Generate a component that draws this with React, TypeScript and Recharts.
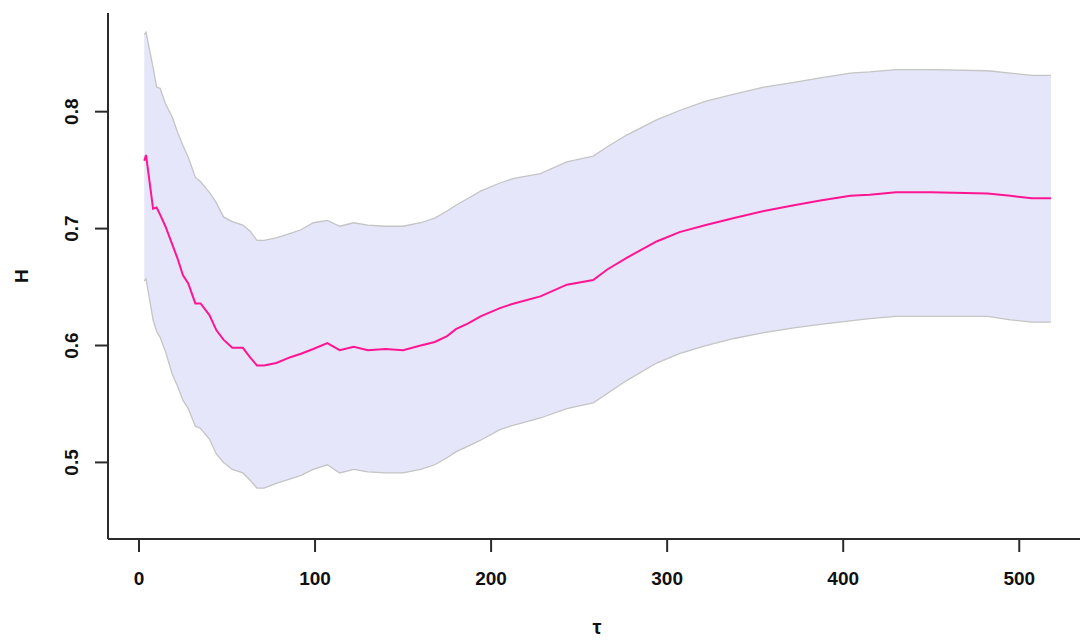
import React from "react";
import { Area, ComposedChart, Label, Line, XAxis, YAxis } from "recharts";

// tau values (x axis)
const tau = [
  3, 4, 8, 10, 12, 15, 19, 22, 25, 28, 32, 35, 40, 44, 48, 53, 59, 63, 67, 71, 78, 86, 92, 99, 107, 114,
  122, 130, 140, 150, 160, 168, 175, 180, 187, 194, 205, 213, 228, 243, 258, 266, 277, 294, 307, 322,
  338, 355, 372, 387, 404, 415, 430, 450, 482, 495, 507, 518,
];

// estimated H
const hMean = [
  0.758, 0.763, 0.717, 0.718, 0.712, 0.702, 0.686, 0.674, 0.66, 0.653, 0.636, 0.636, 0.626, 0.613, 0.605,
  0.598, 0.598, 0.59, 0.583, 0.583, 0.585, 0.59, 0.593, 0.597, 0.602, 0.596, 0.599, 0.596, 0.597, 0.596,
  0.6, 0.603, 0.608, 0.614, 0.619, 0.625, 0.632, 0.636, 0.642, 0.652, 0.656, 0.665, 0.675, 0.689, 0.697,
  0.703, 0.709, 0.715, 0.72, 0.724, 0.728, 0.729, 0.731, 0.731, 0.73, 0.728, 0.726, 0.726,
];

// upper confidence bound
const hHigh = [
  0.866, 0.868, 0.838, 0.821, 0.82, 0.807, 0.795, 0.782, 0.771, 0.761, 0.744, 0.74, 0.731, 0.722, 0.71,
  0.706, 0.703, 0.698, 0.69, 0.69, 0.692, 0.696, 0.699, 0.705, 0.707, 0.702, 0.705, 0.703, 0.702, 0.702,
  0.705, 0.709, 0.715, 0.72, 0.726, 0.732, 0.739, 0.743, 0.747, 0.757, 0.762, 0.77, 0.78, 0.793, 0.801,
  0.809, 0.815, 0.821, 0.825, 0.829, 0.833, 0.834, 0.836, 0.836, 0.835, 0.833, 0.831, 0.831,
];

// lower confidence bound
const hLow = [
  0.655, 0.657, 0.622, 0.612, 0.607, 0.595, 0.575, 0.565, 0.553, 0.546, 0.531, 0.529, 0.52, 0.507, 0.5,
  0.494, 0.491, 0.485, 0.478, 0.478, 0.482, 0.486, 0.489, 0.494, 0.498, 0.491, 0.494, 0.492, 0.491, 0.491,
  0.494, 0.498, 0.504, 0.509, 0.514, 0.519, 0.528, 0.532, 0.538, 0.546, 0.551, 0.559, 0.57, 0.585, 0.593,
  0.6, 0.606, 0.611, 0.615, 0.618, 0.621, 0.623, 0.625, 0.625, 0.625, 0.622, 0.62, 0.62,
];

const xTicks = [0, 100, 200, 300, 400, 500];
const yTicks = [0.5, 0.6, 0.7, 0.8];

const data = tau.map((t, i) => ({
  tau: t,
  mean: hMean[i],
  low: hLow[i],
  high: hHigh[i],
  band: [hLow[i], hHigh[i]],
}));

const font = "'Liberation Sans', Arial, sans-serif";
const axisColor = "#2b2b2b";

const YTick = (props: any) => {
  const { x, y, payload } = props;
  const cx = x - 17;
  return (
    <text
      x={cx}
      y={y}
      transform={`rotate(-90 ${cx} ${y})`}
      textAnchor="middle"
      fontFamily={font}
      fontSize={19}
      fontWeight="bold"
      fill="#111"
    >
      {payload.value.toFixed(1)}
    </text>
  );
};

const yTitle = (props: any) => {
  const { x, y, height } = props.viewBox;
  const cx = x + 28;
  const cy = y + height / 2;
  return (
    <text
      x={cx}
      y={cy}
      transform={`rotate(-90 ${cx} ${cy})`}
      textAnchor="middle"
      fontFamily={font}
      fontSize={19}
      fontWeight="bold"
      fill="#111"
    >
      H
    </text>
  );
};

const xTitle = (props: any) => {
  const { x, y, width, height } = props.viewBox;
  return (
    <text
      x={x + width / 2 + 3}
      y={y + height - 7}
      textAnchor="middle"
      fontFamily={font}
      fontSize={20}
      fontWeight="bold"
      fill="#111"
    >
      τ
    </text>
  );
};

export default function App() {
  return (
    <div style={{ position: "absolute", left: 0, top: 0, background: "#fff" }}>
      <ComposedChart width={1082} height={641} data={data} margin={{ top: 13, right: 2, bottom: 0, left: 0 }}>
        <XAxis
          type="number"
          dataKey="tau"
          domain={[-17.6, 534.5]}
          ticks={xTicks}
          allowDataOverflow
          height={102}
          tickSize={13}
          tickMargin={20}
          axisLine={{ stroke: axisColor, strokeWidth: 2 }}
          tickLine={{ stroke: axisColor, strokeWidth: 2 }}
          tick={{ fontFamily: font, fontSize: 19, fontWeight: "bold", fill: "#111" }}
        >
          <Label content={xTitle} />
        </XAxis>
        <YAxis
          type="number"
          domain={[0.4345, 0.8844]}
          ticks={yTicks}
          allowDataOverflow
          width={108}
          tickSize={13}
          tickMargin={0}
          axisLine={{ stroke: axisColor, strokeWidth: 2 }}
          tickLine={{ stroke: axisColor, strokeWidth: 2 }}
          tick={<YTick />}
        >
          <Label content={yTitle} />
        </YAxis>
        <Area
          dataKey="band"
          type="linear"
          fill="#e6e6fa"
          fillOpacity={1}
          stroke="none"
          isAnimationActive={false}
        />
        <Line dataKey="high" type="linear" stroke="#c4c4c4" strokeWidth={1.3} dot={false} isAnimationActive={false} />
        <Line dataKey="low" type="linear" stroke="#c4c4c4" strokeWidth={1.3} dot={false} isAnimationActive={false} />
        <Line dataKey="mean" type="linear" stroke="#ff1493" strokeWidth={2} dot={false} isAnimationActive={false} />
      </ComposedChart>
    </div>
  );
}
